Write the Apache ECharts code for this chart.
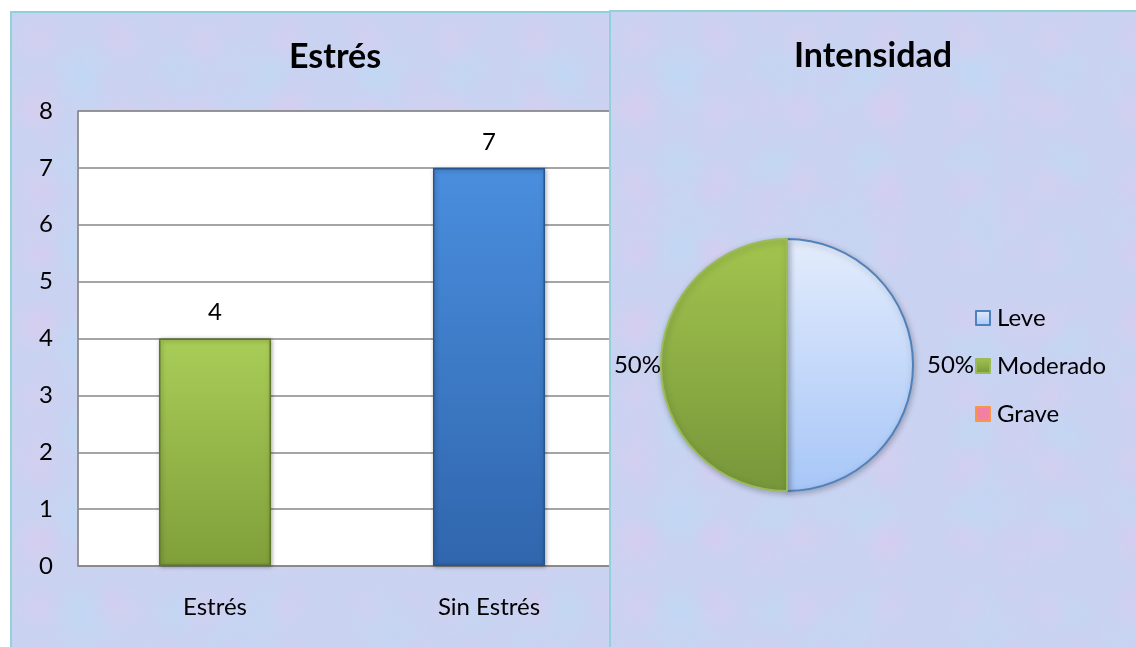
<!DOCTYPE html>
<html>
<head>
<meta charset="utf-8">
<script src="https://cdn.jsdelivr.net/npm/echarts@6/dist/echarts.min.js"></script>
<style>
  html, body { margin: 0; padding: 0; width: 1136px; height: 647px; overflow: hidden; background: #ffffff; }
  .panel {
    position: absolute;
    overflow: hidden;
    border: 2px solid #93cfdc;
    background-color: #c9d3f1;
    background-image:
      radial-gradient(circle at 30% 40%, rgba(228, 200, 238, 0.35) 0, rgba(228, 200, 238, 0) 26px),
      radial-gradient(circle at 70% 70%, rgba(184, 220, 246, 0.4) 0, rgba(184, 220, 246, 0) 30px),
      radial-gradient(circle at 60% 20%, rgba(210, 204, 242, 0.4) 0, rgba(210, 204, 242, 0) 20px),
      radial-gradient(circle at 20% 80%, rgba(222, 202, 238, 0.3) 0, rgba(222, 202, 238, 0) 34px),
      radial-gradient(circle at 50% 50%, rgba(192, 216, 246, 0.35) 0, rgba(192, 216, 246, 0) 44px);
    background-size: 83px 71px, 97px 89px, 61px 57px, 127px 113px, 151px 139px;
  }
  #left { left: 10px; top: 11px; width: 600px; height: 650px; }
  #right { left: 609px; top: 10px; width: 540px; height: 650px; }
  #barChart { width: 640px; height: 100%; }
  #pieChart { width: 100%; height: 100%; }
</style>
</head>
<body>
<div id="left" class="panel"><div id="barChart"></div></div>
<div id="right" class="panel"><div id="pieChart"></div></div>
<script>
  const categories = ['Estrés', 'Sin Estrés'];
  const counts = [4, 7];
  const yTicks = [0, 8, 1]; // min, max, interval

  const intensityNames = ['Leve', 'Moderado', 'Grave'];
  const intensityValues = [50, 50, 0];

  const font = 'Lato, "Open Sans", sans-serif';

  function vgrad(top, bottom) {
    return new echarts.graphic.LinearGradient(0, 0, 0, 1, [
      { offset: 0, color: top },
      { offset: 1, color: bottom }
    ]);
  }

  const barColors = [
    { fill: vgrad('#a9cd58', '#7f9f3a'), border: '#5d7629' },
    { fill: vgrad('#4a8ede', '#3066ad'), border: '#27548c' }
  ];

  const barChart = echarts.init(document.getElementById('barChart'));
  barChart.setOption({
    animation: false,
    title: {
      text: 'Estrés',
      left: 272,
      top: 22,
      textStyle: { fontFamily: font, fontSize: 34, fontWeight: 'bold', color: '#000' }
    },
    grid: {
      left: 66,
      top: 98,
      width: 548,
      height: 455,
      show: true,
      backgroundColor: '#ffffff',
      borderColor: '#888888',
      borderWidth: 1
    },
    xAxis: {
      type: 'category',
      data: categories,
      axisLine: { show: true, lineStyle: { color: '#888888', width: 1.5 } },
      axisTick: { show: false },
      axisLabel: { fontFamily: font, fontSize: 24, color: '#000', margin: 29 }
    },
    yAxis: {
      type: 'value',
      min: yTicks[0],
      max: yTicks[1],
      interval: yTicks[2],
      axisLine: { show: true, lineStyle: { color: '#888888', width: 1.5 } },
      axisTick: { show: false },
      axisLabel: { fontFamily: font, fontSize: 24, color: '#000', margin: 25 },
      splitLine: { lineStyle: { color: '#878787', width: 1.5 } }
    },
    series: [{
      type: 'bar',
      barWidth: 112,
      data: counts.map((v, i) => ({
        value: v,
        itemStyle: {
          color: barColors[i].fill,
          borderColor: barColors[i].border,
          borderWidth: 1.5,
          shadowBlur: 4,
          shadowColor: 'rgba(0,0,0,0.35)',
          shadowOffsetX: 1,
          shadowOffsetY: 1
        }
      })),
      label: {
        show: true,
        position: 'top',
        distance: 14,
        fontFamily: font,
        fontSize: 24,
        color: '#000'
      }
    }]
  });

  const pieStyles = [
    { color: vgrad('#e3ecfc', '#a7c6f7'), borderColor: '#4f81bd', borderWidth: 2, labelPad: [0, 0, 0, 14] },
    { color: vgrad('#a2c44e', '#77963a'), borderColor: '#9bbb59', borderWidth: 2, labelPad: [0, 0, 0, 0] },
    { color: '#f47fa4', borderColor: '#f79646', borderWidth: 0, labelPad: [0, 0, 0, 0] }
  ];

  const pieChart = echarts.init(document.getElementById('pieChart'));
  pieChart.setOption({
    animation: false,
    title: {
      text: 'Intensidad',
      left: 178,
      top: 22,
      textStyle: { fontFamily: font, fontSize: 34, fontWeight: 'bold', color: '#000' }
    },
    legend: {
      orient: 'vertical',
      left: 359,
      top: 289,
      itemWidth: 14,
      itemHeight: 14,
      itemGap: 24,
      itemStyle: { borderWidth: 2 },
      icon: 'rect',
      data: intensityNames,
      textStyle: { fontFamily: font, fontSize: 24, color: '#000', padding: [0, 0, 0, 2] }
    },
    series: [{
      type: 'pie',
      center: [176, 353],
      radius: 126,
      startAngle: 90,
      clockwise: true,
      data: intensityNames.map((n, i) => ({
        name: n,
        value: intensityValues[i],
        itemStyle: {
          color: pieStyles[i].color,
          borderColor: pieStyles[i].borderColor,
          borderWidth: pieStyles[i].borderWidth,
          shadowBlur: 6,
          shadowColor: 'rgba(0,0,0,0.25)',
          shadowOffsetX: 1,
          shadowOffsetY: 2
        },
        label: { show: intensityValues[i] > 0, padding: pieStyles[i].labelPad }
      })),
      label: {
        show: true,
        position: 'outside',
        formatter: '{d}%',
        overflow: 'none',
        distanceToLabelLine: 0,
        fontFamily: font,
        fontSize: 24,
        color: '#000'
      },
      labelLine: { show: false, length: 0, length2: 0 },
      emphasis: { disabled: true }
    }]
  });
</script>
</body>
</html>
